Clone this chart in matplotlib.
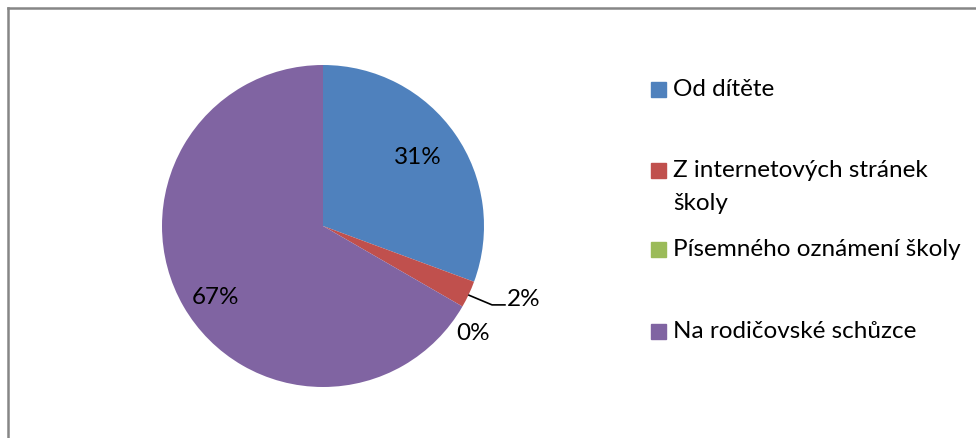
import numpy as np
import matplotlib.pyplot as plt
from matplotlib.lines import Line2D
from matplotlib.patches import Rectangle

plt.rcParams['font.family'] = ['Lato', 'DejaVu Sans']

# odpovedi (pocty)
labels = ['Od dítěte', 'Z internetových stránek\nškoly', 'Písemného oznámení školy', 'Na rodičovské schůzce']
counts = [34, 3, 0, 74]
pct_text = ['31%', '2%', '0%', '67%']
colors = ['#4F81BD', '#C0504D', '#9BBB59', '#8064A2']

W, H = 976, 439
fig = plt.figure(figsize=(W / 100, H / 100), dpi=100)

# ramecek grafu
fig.add_artist(Line2D([7.5 / W, 1], [1 - 8.5 / H, 1 - 8.5 / H], color='#868686', lw=1.8))
fig.add_artist(Line2D([7.5 / W, 7.5 / W], [0, 1 - 8.5 / H], color='#868686', lw=1.8))

cx, cy, r = 323, 227, 161
ax = fig.add_axes([(cx - r) / W, (H - cy - r) / H, 2 * r / W, 2 * r / H])
ax.pie(counts, colors=colors, startangle=90, counterclock=False,
       wedgeprops=dict(linewidth=0))
ax.set_xlim(-1, 1)
ax.set_ylim(-1, 1)
ax.axis('off')

fs = 17.5
ax.text(0.59, 0.43, pct_text[0], ha='center', va='center', fontsize=fs)
ax.text(-0.67, -0.435, pct_text[3], ha='center', va='center', fontsize=fs)
ax.text(0.93, -0.66, pct_text[2], ha='center', va='center', fontsize=fs)
ax.text(1.14, -0.45, pct_text[1], ha='left', va='center', fontsize=fs)
ax.plot([0.907, 1.05, 1.13], [-0.43, -0.49, -0.49], color='black', lw=1.2, clip_on=False)

# legenda
ys = [90, 171, 250, 332]
for lab, col, y in zip(labels, colors, ys):
    fig.add_artist(Rectangle((651 / W, 1 - (y + 7.5) / H), 15 / W, 15 / H, color=col))
    for k, line in enumerate(lab.split('\n')):
        fig.text(673 / W, 1 - (y + 33 * k) / H, line, ha='left', va='center', fontsize=fs)

fig.savefig('out.png')
